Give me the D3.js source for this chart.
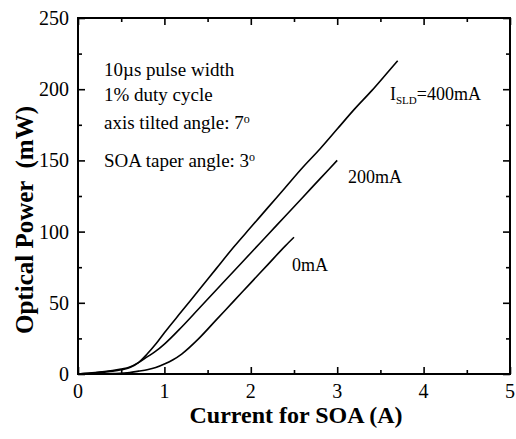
<!DOCTYPE html>
<html>
<head>
<meta charset="utf-8">
<script src="https://cdn.jsdelivr.net/npm/d3@7"></script>
<style>
  body { margin: 0; background: #fff; }
</style>
</head>
<body>
<div class="chart"></div>
<script>
// data
var x400 = [0, 0.2, 0.4, 0.5, 0.6, 0.7, 0.8, 0.9, 1.0, 1.2, 1.4, 1.6, 1.8, 2.0, 2.2, 2.4, 2.6, 2.8, 3.0, 3.2, 3.4, 3.6, 3.7];
var y400 = [0, 0.8, 2, 3, 4.5, 8, 14, 21, 29, 44, 59, 74, 89, 103, 117, 131, 145, 158, 172, 186, 199, 213, 220];
var x200 = [0, 0.2, 0.4, 0.5, 0.6, 0.7, 0.8, 0.9, 1.0, 1.2, 1.4, 1.6, 1.8, 2.0, 2.2, 2.4, 2.6, 2.8, 3.0];
var y200 = [0, 1, 2.5, 3.5, 5, 8, 12, 16, 21, 33, 46, 59, 72, 85, 98, 111, 124, 137, 150];
var x0 = [0, 0.2, 0.4, 0.6, 0.7, 0.8, 0.9, 1.0, 1.1, 1.2, 1.4, 1.6, 1.8, 2.0, 2.2, 2.4, 2.5];
var y0 = [0, 0, 0.3, 1, 2, 3, 4.5, 7, 10, 14, 25, 38, 51, 64, 77, 90, 96];

var xTicks = [0, 1, 2, 3, 4, 5];
var yTicks = [0, 50, 100, 150, 200, 250];
var notes = ["10\u00b5s pulse width", "1% duty cycle", "axis tilted angle: 7", "SOA taper angle: 3"];

var serif = "'Liberation Serif', Tinos, 'Times New Roman', Times, 'Nimbus Roman', 'DejaVu Serif', serif";

var margin = {top: 18, right: 6, bottom: 65, left: 78};
var width = 516 - margin.left - margin.right,
    height = 439 - margin.top - margin.bottom;

var svg = d3.select(".chart")
    .append("svg")
    .attr("width", 516)
    .attr("height", 439)
    .attr("font-family", serif)
    .append("g")
    .attr("transform", "translate(" + margin.left + "," + margin.top + ")");

var x = d3.scaleLinear().domain([0, 5]).range([0, width]);
var y = d3.scaleLinear().domain([0, 250]).range([height, 0]);

// ticks, all pointing inward
function tickAxis(axis, scale, values, size) {
    return axis(scale).tickValues(values).tickSize(size).tickFormat("");
}
var xMinor = d3.range(0.5, 5, 1);
var yMinor = d3.range(25, 250, 50);

svg.append("g").attr("class", "ax").call(tickAxis(d3.axisTop, x, xTicks, 7)).attr("transform", "translate(0," + height + ")");
svg.append("g").attr("class", "ax").call(tickAxis(d3.axisTop, x, xMinor, 4)).attr("transform", "translate(0," + height + ")");
svg.append("g").attr("class", "ax").call(tickAxis(d3.axisBottom, x, xTicks, 7));
svg.append("g").attr("class", "ax").call(tickAxis(d3.axisBottom, x, xMinor, 4));
svg.append("g").attr("class", "ax").call(tickAxis(d3.axisRight, y, yTicks, 7));
svg.append("g").attr("class", "ax").call(tickAxis(d3.axisRight, y, yMinor, 4));
svg.append("g").attr("class", "ax").call(tickAxis(d3.axisLeft, y, yTicks, 7)).attr("transform", "translate(" + width + ",0)");
svg.append("g").attr("class", "ax").call(tickAxis(d3.axisLeft, y, yMinor, 4)).attr("transform", "translate(" + width + ",0)");

svg.selectAll(".ax .domain").remove();
svg.selectAll(".ax line").attr("stroke", "#000").attr("stroke-width", 1.6);

svg.append("rect")
    .attr("width", width)
    .attr("height", height)
    .attr("fill", "none")
    .attr("stroke", "#000")
    .attr("stroke-width", 2);

// tick labels
svg.selectAll(".xlab")
    .data(xTicks)
    .enter()
    .append("text")
    .attr("font-family", serif)
    .attr("x", function (d) { return x(d); })
    .attr("y", height + 24)
    .style("text-anchor", "middle")
    .style("font-size", "20px")
    .text(function (d) { return d; });

svg.selectAll(".ylab")
    .data(yTicks)
    .enter()
    .append("text")
    .attr("font-family", serif)
    .attr("x", -9)
    .attr("y", function (d) { return y(d); })
    .attr("dy", "0.35em")
    .style("text-anchor", "end")
    .style("font-size", "20px")
    .text(function (d) { return d; });

// axis titles
svg.append("text")
    .attr("font-family", serif)
    .attr("x", width / 2 + 2)
    .attr("y", height + 49)
    .style("text-anchor", "middle")
    .style("font-size", "24px")
    .style("font-weight", "bold")
    .text("Current for SOA (A)");

svg.append("text")
    .attr("font-family", serif)
    .attr("transform", "rotate(-90)")
    .attr("x", -202)
    .attr("y", -45)
    .style("text-anchor", "middle")
    .style("font-size", "25px")
    .style("font-weight", "bold")
    .style("white-space", "pre")
    .text("Optical Power  (mW)");

// curves
var line = d3.line()
    .x(function (d) { return x(d[0]); })
    .y(function (d) { return y(d[1]); })
    .curve(d3.curveMonotoneX);

[[x400, y400], [x200, y200], [x0, y0]].forEach(function (s) {
    svg.append("path")
        .datum(d3.zip(s[0], s[1]))
        .attr("d", line)
        .attr("fill", "none")
        .attr("stroke", "#000")
        .attr("stroke-width", 1.6);
});

// notes
var noteY = [76, 101, 129, 167];
notes.forEach(function (t, i) {
    var tx = svg.append("text")
        .attr("font-family", serif)
        .attr("x", 26)
        .attr("y", noteY[i] - margin.top)
        .style("font-size", "19px")
        .text(t);
    if (i >= 2) {
        tx.append("tspan").attr("dy", "-0.5em").style("font-size", "12px").text("o");
    }
});

// curve labels
var lab = svg.append("text")
    .attr("font-family", serif)
    .attr("x", 390 - margin.left)
    .attr("y", 100 - margin.top)
    .style("font-size", "18px");
lab.append("tspan").text("I");
lab.append("tspan").attr("dy", "4").style("font-size", "11px").text("SLD");
lab.append("tspan").attr("dy", "-4").text("=400mA");

svg.append("text")
    .attr("font-family", serif)
    .attr("x", 348 - margin.left)
    .attr("y", 183 - margin.top)
    .style("font-size", "18px")
    .text("200mA");

svg.append("text")
    .attr("font-family", serif)
    .attr("x", 292 - margin.left)
    .attr("y", 271 - margin.top)
    .style("font-size", "18px")
    .text("0mA");
</script>
</body>
</html>
